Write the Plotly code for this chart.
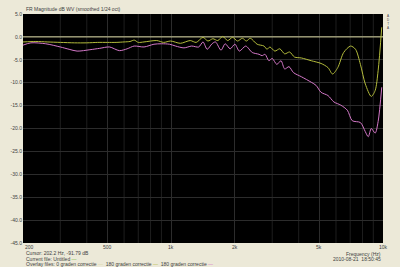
import math
import plotly.graph_objects as go

# ---- data ----
green_f = [200, 230, 260, 300, 350, 400, 450, 500, 550, 600, 640, 670, 700, 745,
           856, 922, 994, 1106, 1231, 1313, 1414, 1492, 1574, 1661, 1752, 1849, 1950,
           2057, 2170, 2265, 2364, 2547, 2745, 2835, 2926, 3088, 3257, 3436, 3625,
           3823, 4120, 4586, 5102, 5500, 5782, 6118, 6523, 7031, 7418, 7823, 8252,
           8803, 9183, 9484, 9864]
green_db = [-1.1, -1.0, -1.1, -1.2, -1.3, -1.3, -1.2, -1.2, -1.2, -1.1, -1.0, -0.7, -1.2, -1.1,
            -0.8, -1.2, -0.9, -1.4, -0.8, -1.2, -0.1, -0.9, -0.4, -0.8, 0.1, -0.8, -0.1,
            -0.9, -0.3, -0.9, -0.3, -1.6, -2.0, -2.7, -2.2, -3.1, -2.6, -3.7, -3.3,
            -4.4, -4.6, -5.2, -5.8, -6.7, -8.1, -6.7, -3.4, -2.0, -2.7, -6.0, -10.3,
            -13.0, -11.7, -7.4, 2.1]

pink_f = [200, 218, 256, 300, 330, 360, 414, 460, 512, 570, 620, 669, 745,
          830, 900, 983, 1050, 1150, 1250, 1350, 1414, 1480, 1560, 1620, 1720,
          1800, 1900, 2000, 2100, 2250, 2414, 2600, 2687, 2775, 2894, 3000, 3154,
          3300, 3436, 3600, 3781, 4120, 4586, 4836, 5102, 5500, 5864, 6319, 6786,
          7161, 7823, 8252, 8522, 8803, 9183, 9484, 9864]
pink_db = [-1.8, -1.3, -1.5, -2.2, -2.7, -3.1, -2.8, -2.5, -2.2, -3.0, -2.6, -2.0, -2.2,
           -1.6, -1.5, -1.6, -2.0, -2.4, -2.0, -2.2, -1.1, -2.7, -1.5, -1.1, -2.9,
           -1.5, -2.6, -1.6, -3.1, -2.0, -3.4, -3.8, -4.1, -3.8, -5.2, -4.7, -6.0,
           -5.2, -7.0, -6.5, -7.8, -8.7, -9.9, -10.6, -12.1, -12.8, -14.2, -14.9, -16.0,
           -18.3, -18.7, -20.7, -21.8, -20.0, -21.0, -18.5, -11.0]

ref_f = [200, 10000]
ref_db = [0.0, 0.0]

y_ticks = [5, 0, -5, -10, -15, -20, -25, -30, -35, -40, -45]
y_labels = ["5.0", "0.0", "-5.0", "-10.0", "-15.0", "-20.0", "-25.0", "-30.0", "-35.0", "-40.0", "-45.0"]
x_ticks = [200, 500, 1000, 2000, 5000, 10000]
x_labels = ["200", "500", "1k", "2k", "5k", "10k"]
minor_x = [300, 400, 600, 700, 800, 900, 3000, 4000, 6000, 7000, 8000, 9000]

BG = "#ECE9D8"
TXT = "#404040"
FONT = "Liberation Sans"

fig = go.Figure()
fig.add_trace(go.Scatter(x=ref_f, y=ref_db, mode="lines", line=dict(color="#D8D6A0", width=1), showlegend=False))
fig.add_trace(go.Scatter(x=pink_f, y=pink_db, mode="lines", line=dict(color="#D478C8", width=1, shape="spline", smoothing=0.8), showlegend=False))
fig.add_trace(go.Scatter(x=green_f, y=green_db, mode="lines", line=dict(color="#B4BC3C", width=1, shape="spline", smoothing=0.8), showlegend=False))

W, H = 400, 267
L, R, T, B = 17, 383, 11, 243

def px(x):
    return (x - L) / (R - L)

def py(y):
    return (B - y) / (B - T)

shapes = []
for f in minor_x:
    shapes.append(dict(type="line", xref="x", yref="paper", x0=f, x1=f, y0=0, y1=1,
                       line=dict(color="#1E1E1E", width=1), layer="below"))

fig.update_layout(
    width=W, height=H,
    margin=dict(l=L, r=W - R, t=T, b=H - B, pad=0),
    paper_bgcolor=BG, plot_bgcolor="#000000",
    font=dict(family=FONT, size=5, color=TXT),
    shapes=shapes,
    xaxis=dict(type="log", range=[math.log10(200), 4.0], tickvals=x_ticks,
               showticklabels=False,
               showgrid=True, gridcolor="#2C2C2C", gridwidth=1, zeroline=False,
               ticks="", showline=False, fixedrange=True),
    yaxis=dict(range=[-45, 5], tickvals=y_ticks, ticktext=y_labels,
               showgrid=True, gridcolor="#2C2C2C", gridwidth=1, zeroline=False,
               ticks="", tickfont=dict(size=5, color=TXT), showline=False, fixedrange=True),
)

ann = []
def text(x, y, s, anchor="left", color=TXT, size=5):
    ann.append(dict(x=px(x), y=py(y), xref="paper", yref="paper", text=s, showarrow=False,
                    xanchor=anchor, yanchor="middle", font=dict(size=size, color=color, family=FONT)))

# x tick labels placed with the axis scale (log10 of tick value -> paper fraction)
lo, hi = math.log10(200), 4.0
for i, (v, lab) in enumerate(zip(x_ticks, x_labels)):
    frac = (math.log10(v) - lo) / (hi - lo)
    anchor = "left" if i == 0 else "center"
    ann.append(dict(x=frac, y=py(247.5), xref="paper", yref="paper", text=lab,
                    showarrow=False, xanchor=anchor, yanchor="middle",
                    font=dict(size=5, color=TXT, family=FONT)))

text(18, 6, "FR Magnitude dB WV (smoothed 1/24 oct)")
text(18, 253.5, "Cursor: 202.2 Hz, -91.79 dB")
text(18, 259, "Current file: Untitled <span style='color:#80C040'>—</span>")
text(18, 264, "Overlay files: 0 graden correctie <span style='color:#D8D6A0'>—</span>  180 graden correctie <span style='color:#B4BC3C'>—</span>  180 graden correctie <span style='color:#D478C8'>—</span>")
text(383, 254, "Frequency (Hz)", anchor="right")
text(383, 259, "2010-08-21  18:50:45", anchor="right")
text(385, 19, "A<br>D<br>T<br>A", anchor="left", size=3)

fig.update_layout(annotations=ann)
fig.write_html("out.html")
